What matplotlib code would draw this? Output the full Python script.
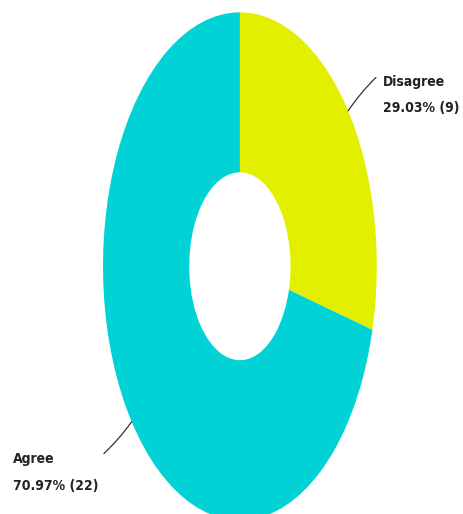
import numpy as np
import matplotlib
matplotlib.use('Agg')
import matplotlib.pyplot as plt

# Survey answers
labels = ['Disagree', 'Agree']
counts = [9, 22]
colors = ['#E2F000', '#00D2D6']

total = sum(counts)
pcts = [c / total * 100 for c in counts]

fig = plt.figure(figsize=(4.64, 5.14), dpi=100)
# the original donut is stretched vertically, so use a tall axes with auto aspect
ax = fig.add_axes([0.222, -0.012, 0.59, 0.988])

wedges, _ = ax.pie(counts, colors=colors, startangle=90, counterclock=False,
                   radius=1.0, wedgeprops=dict(width=0.63, linewidth=0))
ax.set_aspect('auto')
ax.set_xlim(-1, 1)
ax.set_ylim(-1, 1)
ax.axis('off')

# leader lines and labels
offsets = [(20, 24), (-20, -23)]
for w, lab, c, p, off in zip(wedges, labels, counts, pcts, offsets):
    mid = np.deg2rad((w.theta1 + w.theta2) / 2)
    x0, y0 = np.cos(mid), np.sin(mid)
    ax.annotate('', xy=(x0, y0), xytext=off, textcoords='offset points',
                annotation_clip=False,
                arrowprops=dict(arrowstyle='-', color='#333333', lw=0.9,
                                connectionstyle='arc3,rad=0.05',
                                shrinkA=0, shrinkB=0))
    txt = f'{lab}\n{p:.2f}% ({c})'
    if off[0] > 0:
        ax.annotate(txt, xy=(x0, y0), xytext=(off[0] + 5, off[1] + 2),
                    textcoords='offset points', ha='left', va='top',
                    fontsize=10, fontweight='bold', fontstretch='condensed',
                    linespacing=2.15, color='#222222', annotation_clip=False)
    else:
        ax.annotate(txt, xy=(x0, y0), xytext=(off[0] - 4, off[1] + 1),
                    textcoords='offset points', ha='right', va='top',
                    multialignment='left',
                    fontsize=10, fontweight='bold', fontstretch='condensed',
                    linespacing=2.15, color='#222222', annotation_clip=False)

fig.savefig('out.png', dpi=100)
